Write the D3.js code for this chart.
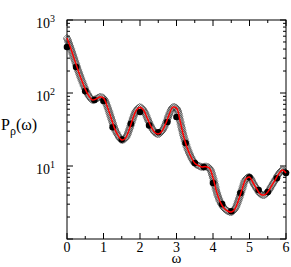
<!DOCTYPE html>
<meta charset="utf-8">
<style>
  body { margin: 0px; background: #fff; }
  text { font-family: "Liberation Serif", "DejaVu Serif", serif; fill: black; }
</style>
<script src="https://d3js.org/d3.v7.min.js"></script>
<body>
<svg id="chart"></svg>
</body>
<script>
const width = 291, height = 267;
const margin = {top: 20, right: 5, bottom: 28, left: 67};

// smooth curve (red line + open diamonds), every 0.1
const omega = [0, 0.1, 0.2, 0.3, 0.4, 0.5, 0.6, 0.7, 0.8, 0.9,
  1.0, 1.1, 1.2, 1.3, 1.4, 1.5, 1.6, 1.7, 1.8, 1.9,
  2.0, 2.1, 2.2, 2.3, 2.4, 2.5, 2.6, 2.7, 2.8, 2.9,
  3.0, 3.1, 3.2, 3.3, 3.4, 3.5, 3.6, 3.7, 3.8, 3.9,
  4.0, 4.1, 4.2, 4.3, 4.4, 4.5, 4.6, 4.7, 4.8, 4.9,
  5.0, 5.1, 5.2, 5.3, 5.4, 5.5, 5.6, 5.7, 5.8, 5.9, 6.0];
const pFit = [566, 413, 292, 207, 151, 113, 91, 80, 83, 88,
  85, 66, 47, 33, 26, 22.7, 24, 31, 44, 58,
  64, 58, 45, 35, 29, 27.4, 30, 37.6, 51, 64,
  62, 41, 25, 17.3, 13.2, 10.9, 10.1, 9.7, 9.8, 9.4,
  6.9, 4.4, 3.2, 2.66, 2.42, 2.34, 2.58, 3.42, 4.84, 6.64,
  7.07, 5.85, 4.84, 4.13, 4.0, 4.4, 5.3, 6.4, 7.8, 8.8, 8.0];

// filled circles
const omegaDots = [0, 0.25, 0.5, 0.75, 1.0, 1.25, 1.5, 1.75, 2.0, 2.25, 2.5, 2.75,
  3.0, 3.25, 3.5, 3.75, 4.0, 4.25, 4.5, 4.75, 5.0, 5.25, 5.5, 5.75, 6.0];
const pDots = [427, 227, 106, 80, 78, 34, 23, 38, 55, 36, 29, 40,
  47, 20.7, 11, 9.7, 5.85, 3.0, 2.4, 4.27, 7.0, 4.7, 4.4, 6.8, 8.0];

const xTicks = [0, 1, 2, 3, 4, 5, 6];
const yTicks = [1, 10, 100, 1000];

const svg = d3.select('#chart').attr('width', width).attr('height', height);

const x = d3.scaleLinear().domain([0, 6]).range([margin.left, width - margin.right]);
const y = d3.scaleLog().domain([1, 1000]).range([height - margin.bottom, margin.top]);

const x0 = x.range()[0], x1 = x.range()[1], y0 = y.range()[0], y1 = y.range()[1];

// minor ticks
const xMinor = d3.range(0.5, 6, 1);
const yMinor = [];
[1, 10, 100].forEach(function(d) { for (let k = 2; k <= 9; k++) yMinor.push(d * k); });

const ticks = svg.append('g').attr('stroke', 'black').attr('stroke-width', 1);

xTicks.forEach(function(t) {
  ticks.append('line').attr('x1', x(t)).attr('x2', x(t)).attr('y1', y0).attr('y2', y0 - 6);
  ticks.append('line').attr('x1', x(t)).attr('x2', x(t)).attr('y1', y1).attr('y2', y1 + 6);
});
xMinor.forEach(function(t) {
  ticks.append('line').attr('x1', x(t)).attr('x2', x(t)).attr('y1', y0).attr('y2', y0 - 3);
  ticks.append('line').attr('x1', x(t)).attr('x2', x(t)).attr('y1', y1).attr('y2', y1 + 3);
});
yTicks.forEach(function(t) {
  ticks.append('line').attr('x1', x0).attr('x2', x0 + 6).attr('y1', y(t)).attr('y2', y(t));
  ticks.append('line').attr('x1', x1).attr('x2', x1 - 6).attr('y1', y(t)).attr('y2', y(t));
});
yMinor.forEach(function(t) {
  ticks.append('line').attr('x1', x0).attr('x2', x0 + 3).attr('y1', y(t)).attr('y2', y(t));
  ticks.append('line').attr('x1', x1).attr('x2', x1 - 3).attr('y1', y(t)).attr('y2', y(t));
});

svg.append('rect')
    .attr('x', x0).attr('y', y1)
    .attr('width', x1 - x0).attr('height', y0 - y1)
    .attr('fill', 'none').attr('stroke', 'black').attr('stroke-width', 1);

// tick labels
svg.append('g').selectAll('text')
    .data(xTicks)
  .enter().append('text')
    .attr('x', function(d) { return x(d); })
    .attr('y', y0 + 13)
    .attr('text-anchor', 'middle')
    .attr('font-size', 14)
    .text(function(d) { return d; });

const yl = svg.append('g').selectAll('text')
    .data(yTicks.slice(1))
  .enter().append('text')
    .attr('x', x0 - 12)
    .attr('y', function(d) { return y(d) + 8; })
    .attr('text-anchor', 'end')
    .attr('font-size', 14);
yl.append('tspan').text('10');
yl.append('tspan').attr('font-size', 10).attr('dy', -6)
    .text(function(d) { return Math.round(Math.log10(d)); });

// axis titles
svg.append('text')
    .attr('x', x((x.domain()[0] + x.domain()[1]) / 2))
    .attr('y', height - 4)
    .attr('text-anchor', 'middle')
    .attr('font-size', 15)
    .text('ω');

const yt = svg.append('text').attr('x', 1).attr('y', 130).attr('font-size', 16);
yt.append('tspan').text('P');
yt.append('tspan').attr('font-size', 12).attr('dy', 5).text('ρ');
yt.append('tspan').attr('dy', -5).text('(ω)');

// curves
const fitData = omega.map(function(d, i) { return [d, pFit[i]]; });
const line = d3.line()
    .x(function(d) { return x(d[0]); })
    .y(function(d) { return y(d[1]); })
    .curve(d3.curveCatmullRom);

const guide = svg.append('path')
    .datum(fitData)
    .attr('d', line)
    .attr('fill', 'none')
    .attr('stroke', 'none');

// open diamonds placed densely along the curve
const node = guide.node();
const total = node.getTotalLength();
const diamonds = d3.range(0, total, 1.6).map(function(l) { return node.getPointAtLength(l); });
svg.append('g').selectAll('path')
    .data(diamonds)
  .enter().append('path')
    .attr('d', function(p) { return `M${p.x},${p.y - 3.8}L${p.x + 3.8},${p.y}L${p.x},${p.y + 3.8}L${p.x - 3.8},${p.y}Z`; })
    .attr('fill', 'none')
    .attr('stroke', '#333')
    .attr('stroke-width', 0.6);

svg.append('g').selectAll('circle')
    .data(omegaDots)
  .enter().append('circle')
    .attr('cx', function(d) { return x(d); })
    .attr('cy', function(d, i) { return y(pDots[i]); })
    .attr('r', 3.3)
    .attr('fill', 'black');

svg.append('path')
    .datum(fitData)
    .attr('d', line)
    .attr('fill', 'none')
    .attr('stroke', '#ff0000')
    .attr('stroke-width', 1.5);
</script>
